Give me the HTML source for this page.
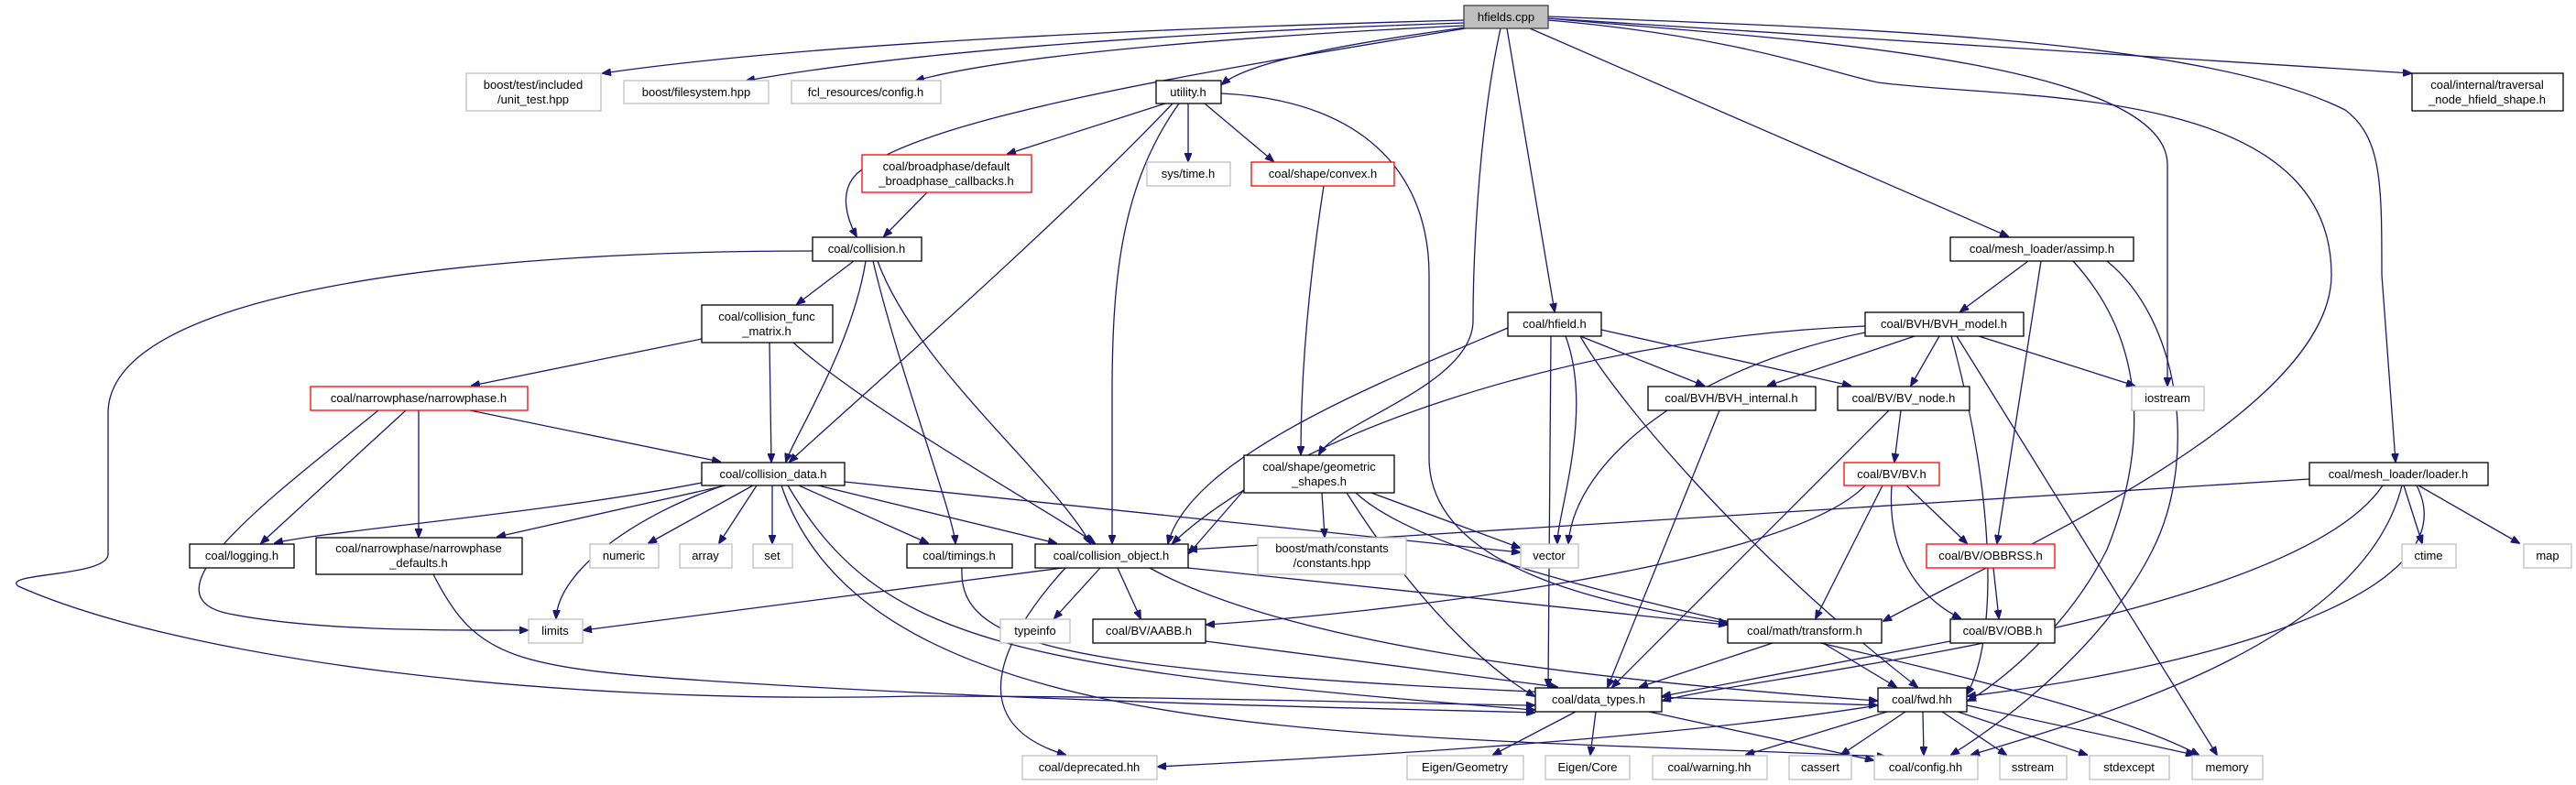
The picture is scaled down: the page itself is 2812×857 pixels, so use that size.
<!DOCTYPE html>
<html><head><meta charset="utf-8"><style>
html,body{margin:0;padding:0;background:#fff;}
svg{display:block;}
text{font-family:"Liberation Sans",sans-serif;font-size:13px;fill:#000;}
.e{fill:none;stroke:#191970;stroke-width:1.3;marker-end:url(#a);}
.b{fill:#fff;stroke:#000;stroke-width:1.3;}
.g{fill:#fff;stroke:#bfbfbf;stroke-width:1.3;}
.r{fill:#fff;stroke:#ff0000;stroke-width:1.3;}
.h{fill:#bfbfbf;stroke:#404040;stroke-width:1.3;}
</style></head><body>
<svg width="2812" height="857" viewBox="0 0 2812 857" xmlns="http://www.w3.org/2000/svg">
<defs><marker id="a" markerWidth="10" markerHeight="8" refX="9" refY="4" orient="auto" markerUnits="userSpaceOnUse"><path d="M0,0 L10,4 L0,8 z" fill="#191970" stroke="#191970"/></marker></defs>
<g>
<!-- hfields edges -->
<path class="e" d="M1598,22 C1300,30 900,45 658,80"/>
<path class="e" d="M1598,25 C1300,35 1000,55 815,88"/>
<path class="e" d="M1598,28 C1350,40 1100,60 1000,88"/>
<path class="e" d="M1600,30 C1450,50 1360,70 1334,92"/>
<path class="e" d="M1600,31 C1300,80 1000,130 935,190 C915,210 925,240 935,258"/>
<path class="e" d="M1645,31 L1697,340"/>
<path class="e" d="M1638,31 C1612,150 1608,300 1608,350 C1608,420 1460,460 1440,496"/>
<path class="e" d="M1670,31 L2192,258"/>
<path class="e" d="M1690,20 C1900,40 2366,60 2366,180 L2366,421"/>
<path class="e" d="M1690,20 L2632,80"/>
<path class="e" d="M1690,22 C1900,40 2000,80 2050,90 C2200,110 2545,90 2545,300 C2545,450 2200,600 2056,678"/>
<path class="e" d="M1690,18 C2000,30 2400,40 2560,120 C2600,150 2600,200 2600,300 L2615,504"/>
<!-- utility -->
<path class="e" d="M1272,113 L1100,168"/>
<path class="e" d="M1297,113 L1297,176"/>
<path class="e" d="M1315,113 L1390,176"/>
<path class="e" d="M1287,113 C1225,200 1214,300 1214,430 L1214,593"/>
<path class="e" d="M1280,113 C1150,250 920,450 862,504"/>
<path class="e" d="M1333,102 C1500,110 1560,200 1560,300 L1560,500 C1560,620 1750,660 1885,680"/>
<path class="e" d="M1445,203 C1430,300 1420,400 1420,496"/>
<path class="e" d="M1012,210 L965,258"/>
<!-- collision.h -->
<path class="e" d="M932,285 L870,332"/>
<path class="e" d="M945,285 C930,380 865,480 858,504"/>
<path class="e" d="M953,285 C980,400 1040,560 1043,593"/>
<path class="e" d="M958,285 C1000,400 1150,520 1190,593"/>
<path class="e" d="M887,274 C500,274 120,320 118,450 L118,605 C118,630 0,625 20,640 C200,720 600,770 1000,760 C1300,760 1600,770 1675,770"/>
<!-- func matrix -->
<path class="e" d="M766,370 L515,421"/>
<path class="e" d="M840,374 L842,504"/>
<path class="e" d="M866,374 C950,450 1150,560 1195,593"/>
<!-- narrowphase -->
<path class="e" d="M513,448 L786,504"/>
<path class="e" d="M443,448 L285,593"/>
<path class="e" d="M457,448 L457,586"/>
<path class="e" d="M413,448 C300,540 150,650 250,670 C350,690 500,688 576,688"/>
<path class="e" d="M473,627 C520,720 560,730 800,745 C1200,770 1600,775 1675,778"/>
<!-- collision_data -->
<path class="e" d="M766,527 C600,560 350,580 300,593"/>
<path class="e" d="M792,530 L543,586"/>
<path class="e" d="M822,530 L708,593"/>
<path class="e" d="M826,530 L785,593"/>
<path class="e" d="M843,530 L843,593"/>
<path class="e" d="M872,530 L1013,593"/>
<path class="e" d="M893,530 L1153,593"/>
<path class="e" d="M790,530 C700,560 610,620 607,675"/>
<path class="e" d="M922,526 L1659,603"/>
<path class="e" d="M860,530 C960,700 1100,730 1675,775"/>
<path class="e" d="M853,530 C950,820 1500,800 2058,826"/>
<!-- collision_object -->
<path class="e" d="M1160,620 L637,688"/>
<path class="e" d="M1201,620 L1151,675"/>
<path class="e" d="M1220,620 L1245,675"/>
<path class="e" d="M1163,620 C1090,700 1050,790 1163,824"/>
<path class="e" d="M1297,620 L1885,682"/>
<path class="e" d="M1255,620 C1400,700 1700,740 2049,765"/>
<path class="e" d="M1316,700 L1700,750"/>
<path class="e" d="M1050,620 C1045,720 1200,740 2049,770"/>
<!-- hfield.h -->
<path class="e" d="M1725,367 L1860,421"/>
<path class="e" d="M1748,360 L2020,421"/>
<path class="e" d="M1709,367 C1740,450 1700,560 1700,593"/>
<path class="e" d="M1693,367 L1690,750"/>
<path class="e" d="M1725,367 C1760,430 1900,600 2093,750"/>
<path class="e" d="M1646,358 C1500,420 1300,500 1275,593"/>
<!-- BVH_model -->
<path class="e" d="M2090,367 L1930,421"/>
<path class="e" d="M2117,367 L2086,421"/>
<path class="e" d="M2160,367 L2330,421"/>
<path class="e" d="M2036,363 C1850,400 1720,500 1712,593"/>
<path class="e" d="M2036,356 C1700,370 1400,480 1280,593"/>
<path class="e" d="M2130,367 C2180,550 2180,700 2147,758"/>
<path class="e" d="M2136,367 L2420,824"/>
<!-- assimp -->
<path class="e" d="M2214,285 L2140,340"/>
<path class="e" d="M2228,285 L2180,593"/>
<path class="e" d="M2263,285 C2350,380 2340,500 2300,600 C2250,700 2160,760 2148,765"/>
<path class="e" d="M2300,285 C2380,350 2400,500 2350,600 C2300,700 2200,780 2130,824"/>
<!-- BV -->
<path class="e" d="M2075,448 L2068,504"/>
<path class="e" d="M2062,448 L1760,750"/>
<path class="e" d="M1877,448 L1755,750"/>
<path class="e" d="M2081,530 L2147,593"/>
<path class="e" d="M2055,530 L1982,675"/>
<path class="e" d="M2065,530 C2060,600 2090,650 2140,675"/>
<path class="e" d="M2036,530 C1950,620 1500,670 1317,682"/>
<path class="e" d="M2176,620 L2182,675"/>
<path class="e" d="M2129,700 L1815,760"/>
<path class="e" d="M1935,702 L1790,750"/>
<path class="e" d="M1990,702 L2070,750"/>
<!-- loader -->
<path class="e" d="M2521,523 L1298,600"/>
<path class="e" d="M2601,530 C2500,680 1900,740 1815,765"/>
<path class="e" d="M2622,530 C2580,700 2300,780 2152,824"/>
<path class="e" d="M2638,530 C2700,650 2400,730 2148,760"/>
<path class="e" d="M2624,530 L2644,593"/>
<path class="e" d="M2640,530 L2750,593"/>
<!-- geometric shapes -->
<path class="e" d="M1358,535 L1298,604"/>
<path class="e" d="M1497,538 L1659,598"/>
<path class="e" d="M1443,538 L1446,586"/>
<path class="e" d="M1470,538 C1560,680 1640,740 1675,760"/>
<path class="e" d="M1480,538 C1600,650 2200,720 2400,824"/>
<!-- data_types / fwd -->
<path class="e" d="M1720,777 L1630,824"/>
<path class="e" d="M1742,777 L1736,824"/>
<path class="e" d="M1800,777 L2045,830"/>
<path class="e" d="M2050,770 C1800,810 1400,830 1264,837"/>
<path class="e" d="M2060,777 L1906,824"/>
<path class="e" d="M2080,777 L2010,824"/>
<path class="e" d="M2099,777 L2100,824"/>
<path class="e" d="M2120,777 L2190,824"/>
<path class="e" d="M2137,777 L2278,824"/>
<path class="e" d="M2147,770 L2395,824"/>
</g>
<g text-anchor="middle">
<rect class="h" x="1598" y="6" width="92" height="25"/><text x="1644" y="23">hfields.cpp</text>
<rect class="g" x="509" y="80" width="147" height="41"/><text x="582" y="97">boost/test/included</text><text x="582" y="113">/unit_test.hpp</text>
<rect class="g" x="681" y="88" width="158" height="25"/><text x="760" y="105">boost/filesystem.hpp</text>
<rect class="g" x="864" y="88" width="163" height="25"/><text x="945" y="105">fcl_resources/config.h</text>
<rect class="b" x="1262" y="88" width="71" height="25"/><text x="1297" y="105">utility.h</text>
<rect class="b" x="2633" y="80" width="165" height="41"/><text x="2715" y="97">coal/internal/traversal</text><text x="2715" y="113">_node_hfield_shape.h</text>
<rect class="r" x="941" y="169" width="185" height="41"/><text x="1033" y="186">coal/broadphase/default</text><text x="1033" y="202">_broadphase_callbacks.h</text>
<rect class="g" x="1252" y="177" width="91" height="26"/><text x="1297" y="194">sys/time.h</text>
<rect class="r" x="1366" y="177" width="156" height="26"/><text x="1444" y="194">coal/shape/convex.h</text>
<rect class="b" x="887" y="259" width="119" height="26"/><text x="946" y="276">coal/collision.h</text>
<rect class="b" x="2129" y="259" width="200" height="26"/><text x="2229" y="276">coal/mesh_loader/assimp.h</text>
<rect class="b" x="766" y="333" width="143" height="41"/><text x="837" y="350">coal/collision_func</text><text x="837" y="366">_matrix.h</text>
<rect class="b" x="1646" y="341" width="102" height="26"/><text x="1697" y="358">coal/hfield.h</text>
<rect class="b" x="2036" y="341" width="173" height="26"/><text x="2122" y="358">coal/BVH/BVH_model.h</text>
<rect class="r" x="339" y="422" width="237" height="26"/><text x="457" y="439">coal/narrowphase/narrowphase.h</text>
<rect class="b" x="1799" y="422" width="183" height="26"/><text x="1890" y="439">coal/BVH/BVH_internal.h</text>
<rect class="b" x="2006" y="422" width="144" height="26"/><text x="2078" y="439">coal/BV/BV_node.h</text>
<rect class="g" x="2327" y="422" width="79" height="26"/><text x="2366" y="439">iostream</text>
<rect class="b" x="1358" y="497" width="164" height="41"/><text x="1440" y="514">coal/shape/geometric</text><text x="1440" y="530">_shapes.h</text>
<rect class="b" x="766" y="505" width="156" height="25"/><text x="844" y="522">coal/collision_data.h</text>
<rect class="r" x="2013" y="505" width="104" height="25"/><text x="2065" y="522">coal/BV/BV.h</text>
<rect class="b" x="2521" y="505" width="195" height="25"/><text x="2618" y="522">coal/mesh_loader/loader.h</text>
<rect class="b" x="207" y="594" width="114" height="26"/><text x="264" y="611">coal/logging.h</text>
<rect class="b" x="345" y="587" width="225" height="40"/><text x="457" y="603">coal/narrowphase/narrowphase</text><text x="457" y="619">_defaults.h</text>
<rect class="g" x="644" y="594" width="75" height="26"/><text x="681" y="611">numeric</text>
<rect class="g" x="742" y="594" width="57" height="26"/><text x="770" y="611">array</text>
<rect class="g" x="822" y="594" width="43" height="26"/><text x="843" y="611">set</text>
<rect class="b" x="990" y="594" width="115" height="26"/><text x="1047" y="611">coal/timings.h</text>
<rect class="b" x="1130" y="594" width="167" height="26"/><text x="1213" y="611">coal/collision_object.h</text>
<rect class="g" x="1373" y="587" width="162" height="40"/><text x="1454" y="603">boost/math/constants</text><text x="1454" y="619">/constants.hpp</text>
<rect class="g" x="1660" y="594" width="63" height="26"/><text x="1691" y="611">vector</text>
<rect class="r" x="2103" y="594" width="140" height="26"/><text x="2173" y="611">coal/BV/OBBRSS.h</text>
<rect class="g" x="2622" y="594" width="59" height="26"/><text x="2651" y="611">ctime</text>
<rect class="g" x="2755" y="594" width="52" height="26"/><text x="2781" y="611">map</text>
<rect class="g" x="577" y="676" width="59" height="26"/><text x="606" y="693">limits</text>
<rect class="g" x="1092" y="676" width="76" height="26"/><text x="1130" y="693">typeinfo</text>
<rect class="b" x="1193" y="676" width="123" height="26"/><text x="1254" y="693">coal/BV/AABB.h</text>
<rect class="b" x="1886" y="676" width="168" height="26"/><text x="1970" y="693">coal/math/transform.h</text>
<rect class="b" x="2129" y="676" width="114" height="26"/><text x="2186" y="693">coal/BV/OBB.h</text>
<rect class="b" x="1676" y="751" width="138" height="26"/><text x="1745" y="768">coal/data_types.h</text>
<rect class="b" x="2050" y="751" width="97" height="26"/><text x="2098" y="768">coal/fwd.hh</text>
<rect class="g" x="1116" y="825" width="147" height="26"/><text x="1189" y="842">coal/deprecated.hh</text>
<rect class="g" x="1536" y="825" width="127" height="26"/><text x="1599" y="842">Eigen/Geometry</text>
<rect class="g" x="1687" y="825" width="92" height="26"/><text x="1733" y="842">Eigen/Core</text>
<rect class="g" x="1804" y="825" width="125" height="26"/><text x="1866" y="842">coal/warning.hh</text>
<rect class="g" x="1953" y="825" width="68" height="26"/><text x="1987" y="842">cassert</text>
<rect class="g" x="2046" y="825" width="113" height="26"/><text x="2102" y="842">coal/config.hh</text>
<rect class="g" x="2183" y="825" width="73" height="26"/><text x="2219" y="842">sstream</text>
<rect class="g" x="2281" y="825" width="87" height="26"/><text x="2324" y="842">stdexcept</text>
<rect class="g" x="2393" y="825" width="77" height="26"/><text x="2431" y="842">memory</text>
</g>
</svg>
</body></html>
